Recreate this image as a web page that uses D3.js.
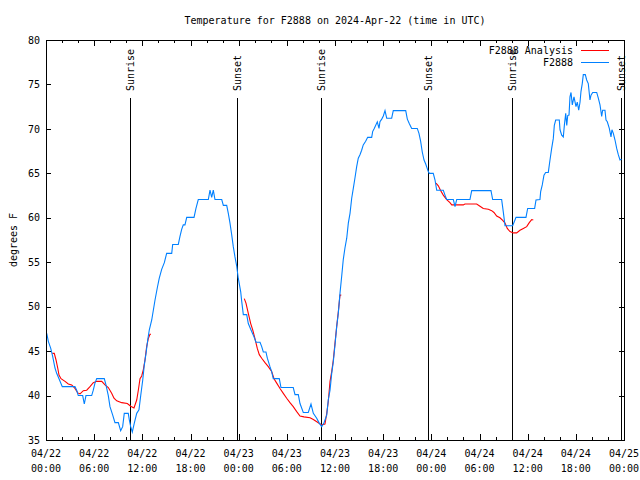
<!DOCTYPE html>
<html>
<head>
<meta charset="utf-8">
<script src="https://cdn.jsdelivr.net/npm/d3@7"></script>
<style>
  html, body { margin: 0; padding: 0; background: #fff; }
  svg { display: block; }
  text { font-family: "DejaVu Sans Mono", "Liberation Mono", monospace; font-size: 10px; fill: #000; }
</style>
</head>
<body>
<svg id="chart" width="640" height="480"></svg>
<script>
// ---------- DATA (hours since 2024-04-22 00:00 UTC, temperature °F) ----------
const titleText = "Temperature for F2888 on 2024-Apr-22 (time in UTC)";
const yLabelText = "degrees F";
const seriesNames = ["F2888 Analysis", "F2888"];
const yTicks = [35, 40, 45, 50, 55, 60, 65, 70, 75, 80];
const xMajorHours = [0, 6, 12, 18, 24, 30, 36, 42, 48, 54, 60, 66, 72];

// Observed station temperature (F2888)
const observed = [
  [0.09,47.0],[0.29,46.1],[0.59,45.3],[0.83,44.4],[1.12,43.1],[1.33,42.5],[1.62,41.9],[2.03,41.0],
  [3.61,41.0],[3.82,40.6],[4.02,40.0],[4.57,40.0],[4.77,39.05],[4.98,40.0],[5.69,40.0],[5.89,40.6],
  [6.10,41.4],[6.32,41.9],[7.26,41.9],[7.47,41.2],[7.76,40.0],[7.97,38.75],[8.31,37.8],[8.59,36.95],
  [9.01,36.95],[9.30,36.05],[9.55,36.5],[9.75,38.0],[10.25,38.0],[10.38,37.25],[10.55,36.5],[10.75,35.9],
  [11.0,36.9],[11.30,38.0],[11.58,38.4],[11.80,40.0],[12.05,41.75],[12.24,43.4],[12.46,44.75],[12.67,46.25],
  [12.87,47.4],[13.17,48.5],[13.37,49.6],[13.58,50.75],[13.86,52.1],[14.11,53.2],[14.41,54.2],[14.74,54.95],
  [15.03,56.0],[15.66,56.0],[15.78,57.0],[16.48,57.0],[16.69,57.9],[16.90,58.7],[17.10,59.2],[17.31,59.2],
  [17.53,60.05],[18.44,60.05],[18.68,61.05],[18.97,62.05],[20.22,62.05],[20.43,63.1],[20.64,62.3],[20.84,63.1],
  [21.05,62.05],[21.89,62.05],[22.09,61.4],[22.51,61.4],[22.71,60.5],[22.92,59.4],[23.13,58.1],[23.33,56.75],
  [23.54,55.6],[23.75,54.6],[23.95,53.2],[24.25,51.7],[24.38,50.6],[24.58,49.1],[25.00,49.1],[25.20,48.1],
  [25.62,47.2],[25.91,46.6],[26.16,46.0],[26.66,46.0],[26.87,45.5],[27.07,44.9],[27.40,44.9],[27.57,44.2],
  [27.90,43.25],[28.11,42.7],[28.31,41.9],[29.06,41.9],[29.27,40.9],[30.80,40.9],[31.02,40.1],[31.43,40.1],
  [31.64,39.1],[32.05,38.1],[32.67,38.1],[33.01,39.05],[33.30,38.0],[33.72,37.45],[34.04,36.9],[34.34,36.5],
  [34.63,36.95],[34.97,37.8],[35.16,39.5],[35.38,40.6],[35.59,42.5],[35.79,43.8],[36.00,45.7],[36.21,47.75],
  [36.41,49.25],[36.62,51.5],[36.83,53.4],[37.03,55.3],[37.24,56.6],[37.46,57.7],[37.66,59.4],[37.87,60.5],
  [38.08,62.2],[38.28,63.3],[38.49,64.5],[38.70,65.75],[38.90,66.7],[39.11,67.1],[39.32,67.6],[39.52,68.2],
  [39.82,68.6],[40.07,69.05],[40.57,69.05],[40.69,69.7],[40.89,70.05],[41.27,70.8],[41.48,70.05],[41.60,70.8],
  [41.82,71.1],[42.02,71.45],[42.23,72.05],[42.44,71.2],[43.06,71.2],[43.26,72.05],[44.81,72.05],[45.01,71.1],
  [45.25,70.6],[45.55,70.05],[46.25,70.05],[46.46,69.5],[46.67,68.6],[46.87,67.4],[47.09,66.5],[47.30,66.05],
  [47.62,65.2],[47.75,65.0],[48.24,65.0],[48.46,64.25],[48.67,63.1],[49.49,63.1],[49.70,62.55],[49.91,62.05],
  [50.74,62.05],[50.95,61.25],[51.16,62.05],[52.81,62.05],[53.03,63.05],[55.43,63.05],[55.64,62.05],[56.76,62.05],
  [56.96,60.7],[57.18,59.1],[58.13,59.1],[58.33,59.55],[58.55,60.05],[59.79,60.05],[60.00,61.05],[60.87,61.05],
  [61.04,62.0],[61.53,62.05],[61.62,62.95],[61.82,63.7],[62.03,64.8],[62.24,65.1],[62.57,65.1],[62.78,66.5],
  [62.99,67.8],[63.19,68.9],[63.32,70.4],[63.49,71.0],[63.94,71.0],[64.03,69.9],[64.24,69.3],[64.44,69.1],
  [64.57,70.4],[64.74,71.75],[64.87,70.4],[64.99,71.5],[65.15,71.55],[65.27,73.6],[65.40,74.1],[65.56,72.7],
  [65.77,73.6],[66.02,72.5],[66.18,73.0],[66.36,72.1],[66.52,73.0],[66.64,74.2],[66.80,75.1],[66.93,76.1],
  [67.18,76.1],[67.35,75.5],[67.55,75.1],[67.76,73.25],[67.89,73.8],[68.10,74.1],[68.60,74.1],[68.80,73.45],
  [69.01,72.7],[69.22,71.4],[69.34,72.1],[69.63,72.1],[69.76,71.0],[69.92,70.8],[70.17,70.05],[70.38,69.1],
  [70.50,69.9],[70.67,69.5],[70.88,68.75],[71.09,67.8],[71.29,67.1],[71.50,66.5],[71.7,66.6]
];

// Analysis (three separate runs)
const analysisRun1 = [
  [0.78,44.75],[1.03,44.75],[1.25,44.0],[1.46,43.1],[1.62,42.3],[1.87,41.9],[2.37,41.6],[2.78,41.3],
  [3.20,41.2],[3.61,40.8],[3.95,40.3],[4.24,40.2],[4.65,40.55],[5.07,40.6],[5.48,41.0],[5.89,41.45],
  [6.32,41.6],[6.94,41.6],[7.35,41.2],[7.76,40.9],[8.18,40.25],[8.47,39.7],[8.81,39.4],[9.43,39.2],
  [10.13,39.1],[10.55,38.8],[10.96,38.6],[11.30,39.5],[11.50,40.6],[11.71,41.9],[11.92,42.2],[12.12,42.9],
  [12.33,44.0],[12.54,45.5],[12.74,46.4],[12.95,46.9],[13.08,46.9]
];
const analysisRun2 = [
  [24.70,50.9],[24.91,50.4],[25.20,49.25],[25.50,48.1],[25.75,47.4],[26.03,46.4],[26.32,45.3],[26.57,44.6],
  [26.87,44.2],[27.28,43.7],[27.69,43.25],[28.11,42.7],[28.40,41.9],[28.74,41.4],[29.15,40.8],[29.56,40.25],
  [29.98,39.7],[30.39,39.2],[30.80,38.75],[31.23,38.2],[31.64,37.7],[32.14,37.6],[32.89,37.5],[33.30,37.3],
  [33.92,36.95],[34.34,36.7],[34.75,36.8],[34.97,38.0],[35.16,39.3],[35.38,41.6],[35.59,42.7],[35.79,44.0],
  [36.00,45.9],[36.21,47.75],[36.41,49.4],[36.62,51.3],[36.78,51.3]
];
const analysisRun3 = [
  [48.58,63.9],[48.87,63.6],[49.17,63.05],[49.49,62.55],[49.91,62.05],[50.32,61.7],[50.54,61.45],[51.98,61.45],
  [52.19,61.55],[53.65,61.55],[54.06,61.3],[54.47,61.05],[55.10,60.95],[55.52,60.8],[55.80,60.6],[56.14,60.2],
  [56.55,60.0],[56.89,59.7],[57.18,59.4],[57.46,58.8],[57.80,58.45],[58.21,58.3],[58.63,58.3],[59.04,58.6],
  [59.46,58.8],[59.88,59.0],[60.20,59.45],[60.50,59.8],[60.70,59.75]
];

// Sunrise / sunset events (hours since start)
const sunEventLabels = ["Sunrise", "Sunset", "Sunrise", "Sunset", "Sunrise", "Sunset"];
const sunEventHours = [10.42, 23.75, 34.22, 47.55, 58.1, 71.58];

// ---------- CHART ----------
const svg = d3.select("#chart");
const start = Date.UTC(2024, 3, 22, 0, 0);
const toDate = h => new Date(start + h * 3600e3);

const margin = { left: 46, right: 624, top: 40, bottom: 440 };
const x = d3.scaleUtc().domain([toDate(0), toDate(72)]).range([margin.left, margin.right]);
const y = d3.scaleLinear().domain([35, 80]).range([margin.bottom, margin.top]);

const blue = "#0080ff", red = "#ff0000";

// minor ticks (every 2h) bottom/top
const minorVals = d3.range(0, 73, 2).filter(h => h % 6 !== 0).map(toDate);
const majorVals = xMajorHours.map(toDate);

function xTicks(axisFn, ypos) {
  svg.append("g").attr("transform", `translate(0,${ypos})`)
    .call(axisFn(x).tickValues(minorVals).tickSize(-3).tickFormat(""))
    .call(g => g.select(".domain").remove())
    .call(g => g.selectAll("line").attr("stroke", "#000").attr("shape-rendering", "crispEdges"));
  svg.append("g").attr("transform", `translate(0,${ypos})`)
    .call(axisFn(x).tickValues(majorVals).tickSize(-6).tickFormat(""))
    .call(g => g.select(".domain").remove())
    .call(g => g.selectAll("line").attr("stroke", "#000").attr("shape-rendering", "crispEdges"));
}
xTicks(d3.axisBottom, margin.bottom);
xTicks(d3.axisTop, margin.top);

// x labels (two lines)
const fmtDate = d3.utcFormat("%m/%d"), fmtTime = d3.utcFormat("%H:%M");
const xl = svg.append("g");
majorVals.forEach(d => {
  const t = xl.append("text").attr("text-anchor", "middle");
  t.append("tspan").attr("x", x(d)).attr("y", 457).text(fmtDate(d));
  t.append("tspan").attr("x", x(d)).attr("y", 472).text(fmtTime(d));
});

// y axis left with labels
svg.append("g").attr("transform", `translate(${margin.left},0)`)
  .call(d3.axisLeft(y).tickValues(yTicks).tickSize(-5).tickPadding(6).tickFormat(d3.format("d")))
  .call(g => g.select(".domain").remove())
  .call(g => g.selectAll("line").attr("stroke", "#000").attr("shape-rendering", "crispEdges"))
  .call(g => g.selectAll("text").attr("font-family", null).attr("font-size", null).attr("fill", "#000"));
// y axis right, ticks only
svg.append("g").attr("transform", `translate(${margin.right},0)`)
  .call(d3.axisRight(y).tickValues(yTicks).tickSize(-5).tickFormat(""))
  .call(g => g.select(".domain").remove())
  .call(g => g.selectAll("line").attr("stroke", "#000").attr("shape-rendering", "crispEdges"));

// sunrise / sunset lines
const sun = svg.append("g");
sunEventHours.forEach((h, i) => {
  const xp = Math.round(x(toDate(h))) + 0.5;
  sun.append("line").attr("x1", xp).attr("x2", xp).attr("y1", 98).attr("y2", margin.bottom)
    .attr("stroke", "#000").attr("stroke-width", 1);
  sun.append("text").attr("transform", `translate(${xp},91) rotate(-90)`)
    .attr("text-anchor", "start").attr("dominant-baseline", "central").text(sunEventLabels[i]);
});

// lines
const line = d3.line().x(d => x(toDate(d[0]))).y(d => y(d[1]));
[analysisRun1, analysisRun2, analysisRun3].forEach(run => {
  svg.append("path").datum(run).attr("d", line).attr("fill", "none")
    .attr("stroke", red).attr("stroke-width", 1.1).attr("stroke-linejoin", "miter");
});
svg.append("path").datum(observed).attr("d", line).attr("fill", "none")
  .attr("stroke", blue).attr("stroke-width", 1.1).attr("stroke-linejoin", "miter");

// plot border
svg.append("rect").attr("x", margin.left + 0.5).attr("y", margin.top + 0.5)
  .attr("width", margin.right - margin.left).attr("height", margin.bottom - margin.top)
  .attr("fill", "none").attr("stroke", "#000").attr("shape-rendering", "crispEdges");

// legend
const legend = svg.append("g");
[[seriesNames[0], red, 50.5], [seriesNames[1], blue, 62.5]].forEach(([name, col, yy]) => {
  legend.append("text").attr("x", 573).attr("y", yy).attr("text-anchor", "end")
    .attr("dominant-baseline", "central").text(name);
  legend.append("line").attr("x1", 581).attr("x2", 609).attr("y1", yy).attr("y2", yy)
    .attr("stroke", col).attr("stroke-width", 1).attr("shape-rendering", "crispEdges");
});

// title and y label
svg.append("text").attr("x", 335).attr("y", 24).attr("text-anchor", "middle").text(titleText);
svg.append("text").attr("transform", "translate(13,240) rotate(-90)").attr("text-anchor", "middle")
  .attr("dominant-baseline", "central").text(yLabelText);
</script>
</body>
</html>
